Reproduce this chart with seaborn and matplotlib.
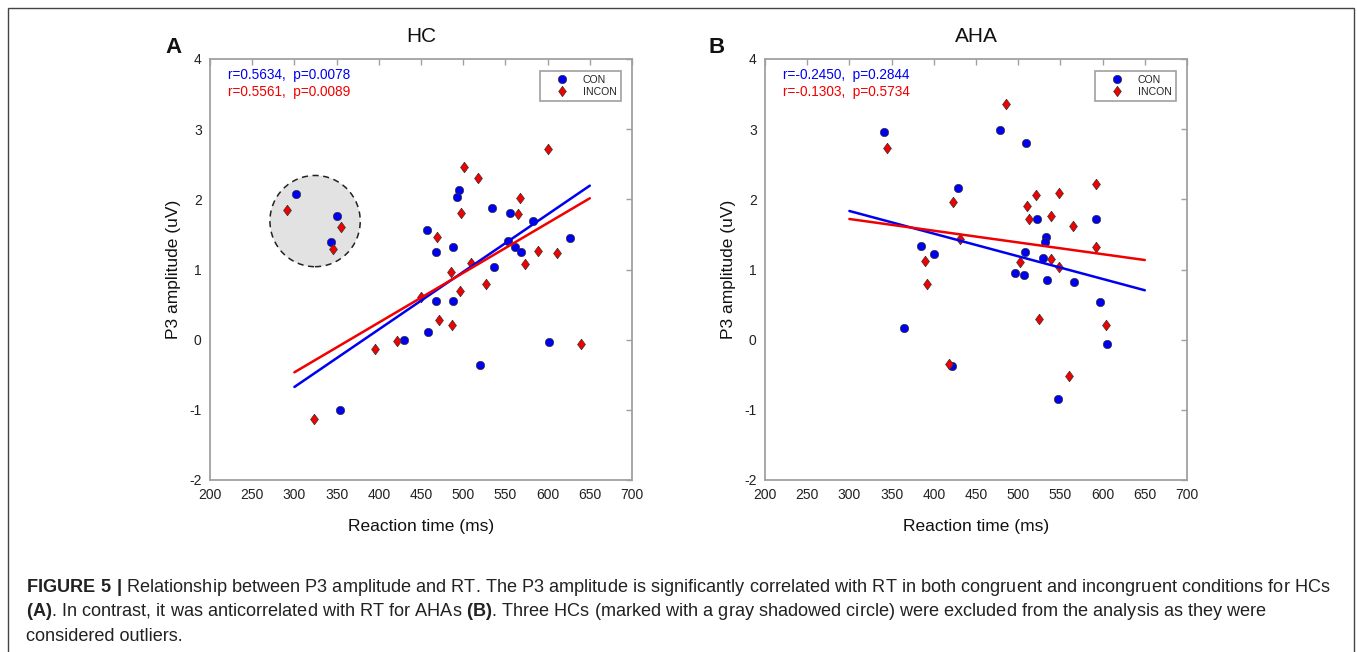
import numpy as np
import pandas as pd
import matplotlib
matplotlib.use("Agg")
import matplotlib.pyplot as plt
import seaborn as sns
from matplotlib.patches import Ellipse, Rectangle
from matplotlib.lines import Line2D

# ---------------- data ----------------
# HC (panel A) - congruent (CON)
hc_con_rt = [495.4, 493.0, 533.7, 555.5, 583.0, 457.5, 626.5, 553.4, 561.0, 487.5,
             467.8, 568.5, 536.8, 467.8, 487.5, 458.7, 429.9, 601.7, 519.9, 354.0]
hc_con_p3 = [2.137, 2.03, 1.87, 1.80, 1.69, 1.56, 1.45, 1.406, 1.316, 1.32,
             1.25, 1.25, 1.03, 0.551, 0.556, 0.114, -0.005, -0.028, -0.361, -1.002]
# HC - incongruent (INCON)
hc_incon_rt = [600.9, 501.3, 517.5, 566.9, 497.0, 565.0, 469.3, 589.0, 611.0, 509.2,
               572.9, 485.2, 527.0, 496.6, 449.6, 471.3, 486.4, 639.6, 395.5, 422.0, 323.6]
hc_incon_p3 = [2.717, 2.461, 2.31, 2.02, 1.805, 1.795, 1.468, 1.264, 1.235, 1.09,
               1.075, 0.97, 0.80, 0.69, 0.61, 0.276, 0.205, -0.066, -0.133, -0.015, -1.126]
# HC outliers (inside gray circle)
hc_out_con_rt = [301.5, 350.8, 343.7]
hc_out_con_p3 = [2.076, 1.767, 1.396]
hc_out_incon_rt = [290.8, 354.8, 346.1]
hc_out_incon_p3 = [1.848, 1.606, 1.292]

# AHA (panel B) - CON
aha_con_rt = [341.0, 428.3, 384.8, 400.6, 478.4, 508.9, 521.9, 591.8, 532.6, 531.8, 508.4,
              529.7, 496.2, 507.2, 533.8, 565.7, 596.5, 364.3, 604.8, 421.6, 547.5]
aha_con_p3 = [2.955, 2.162, 1.335, 1.225, 2.988, 2.80, 1.72, 1.724, 1.468, 1.392, 1.245,
              1.16, 0.955, 0.922, 0.85, 0.822, 0.542, 0.162, -0.057, -0.375, -0.841]
# AHA - INCON
aha_incon_rt = [344.5, 422.7, 431.4, 389.6, 391.6, 485.5, 521.0, 548.3, 510.8, 591.8, 513.2,
                539.0, 564.6, 591.8, 502.0, 539.0, 548.3, 524.6, 604.0, 417.7, 559.8]
aha_incon_p3 = [2.736, 1.958, 1.43, 1.121, 0.793, 3.359, 2.062, 2.09, 1.90, 2.214, 1.72,
                1.758, 1.62, 1.316, 1.103, 1.146, 1.03, 0.295, 0.209, -0.342, -0.518]

# fitted regression lines (end points)
fit_rt = [300, 650]
hc_con_fit = [-0.674, 2.195]
hc_incon_fit = [-0.465, 2.015]
aha_con_fit = [1.834, 0.704]
aha_incon_fit = [1.72, 1.135]

hc_stats = ["r=0.5634,  p=0.0078", "r=0.5561,  p=0.0089"]
aha_stats = ["r=-0.2450,  p=0.2844", "r=-0.1303,  p=0.5734"]
outlier_circle = (324.5, 1.69)  # center (RT, P3)

xticks = list(range(200, 701, 50))
yticks = list(range(-2, 5))
titles = ["HC", "AHA"]
panel_labels = ["A", "B"]
legend_labels = ["CON", "INCON"]

# ---------------- style ----------------
sns.set_style("white")
plt.rcParams['font.family'] = ['Liberation Sans', 'DejaVu Sans']
plt.rcParams['axes.unicode_minus'] = False
plt.rcParams['mathtext.fontset'] = 'custom'
plt.rcParams['mathtext.rm'] = 'Liberation Sans'
plt.rcParams['mathtext.bf'] = 'Liberation Sans:bold'

BLUE = "#0000f0"
RED = "#f00000"
EDGE = "#333333"
SPINE = "#a0a0a0"
S_CIRC = 36
S_DIAM = 58
DIAMOND = [(0, 1), (0.74, 0), (0, -1), (-0.74, 0), (0, 1)]

W, H = 1357, 652
fig = plt.figure(figsize=(W / 100, H / 100), dpi=100)
fig.patch.set_facecolor("white")

# outer frame
fig.patches.append(Rectangle((8 / W, -0.02), (1354 - 8) / W, 1.0 - 8 / H + 0.02,
                             transform=fig.transFigure, fill=False,
                             edgecolor="#444444", linewidth=1.0))

axL = fig.add_axes([210 / W, 1 - 480 / H, 422 / W, 421 / H])
axR = fig.add_axes([765 / W, 1 - 480 / H, 422 / W, 421 / H])


def draw_panel(ax, con_rt, con_p3, incon_rt, incon_p3, con_fit, incon_fit, stats, title):
    sns.scatterplot(x=con_rt, y=con_p3, ax=ax, marker='o', s=S_CIRC, color=BLUE,
                    edgecolor=EDGE, linewidth=0.5, zorder=2, legend=False)
    sns.scatterplot(x=incon_rt, y=incon_p3, ax=ax, marker=DIAMOND, s=S_DIAM, color=RED,
                    edgecolor=EDGE, linewidth=0.5, zorder=2.1, legend=False)
    sns.lineplot(x=fit_rt, y=con_fit, ax=ax, color=BLUE, linewidth=1.8, zorder=3, legend=False)
    sns.lineplot(x=fit_rt, y=incon_fit, ax=ax, color=RED, linewidth=1.8, zorder=3, legend=False)

    ax.set_xlim(200, 700)
    ax.set_ylim(-2, 4)
    ax.set_xticks(xticks)
    ax.set_yticks(yticks)
    ax.tick_params(direction='in', length=4, width=1, color=SPINE, labelsize=10,
                   labelcolor="#222222", top=True, right=True, pad=6)
    for sp in ax.spines.values():
        sp.set_visible(True)
        sp.set_color(SPINE)
        sp.set_linewidth(1.3)
    ax.set_xlabel("Reaction time (ms)", fontsize=12.5, labelpad=12, color="#111111")
    ax.set_ylabel("P3 amplitude (uV)", fontsize=12.5, labelpad=6, color="#111111")
    ax.set_title(title, fontsize=15, pad=12, color="#111111")

    ax.text(0.043, 0.962, stats[0], transform=ax.transAxes, color=BLUE,
            fontsize=9.8, va='center', ha='left')
    ax.text(0.043, 0.922, stats[1], transform=ax.transAxes, color=RED,
            fontsize=9.8, va='center', ha='left')

    handles = [Line2D([], [], marker='o', ls='', color=BLUE, mec=EDGE, mew=0.5, ms=6.0),
               Line2D([], [], marker=DIAMOND, ls='', color=RED, mec=EDGE, mew=0.5, ms=7.4)]
    leg = ax.legend(handles, legend_labels, loc='upper right', bbox_to_anchor=(0.973, 0.972),
                    fontsize=7.6, frameon=True, fancybox=False, framealpha=1,
                    edgecolor=SPINE, borderpad=0.4, handlelength=3.3,
                    handletextpad=0.3, labelspacing=0.15, borderaxespad=0)
    leg.get_frame().set_linewidth(1.2)


draw_panel(axL, hc_con_rt, hc_con_p3, hc_incon_rt, hc_incon_p3,
           hc_con_fit, hc_incon_fit, hc_stats, titles[0])
draw_panel(axR, aha_con_rt, aha_con_p3, aha_incon_rt, aha_incon_p3,
           aha_con_fit, aha_incon_fit, aha_stats, titles[1])

# outlier circle and outlier points in panel A
axL.add_patch(Ellipse(outlier_circle, width=107, height=1.30, facecolor="#e2e2e2",
                      edgecolor="#222222", linestyle=(0, (4, 3)), linewidth=1.1, zorder=1))
sns.scatterplot(x=hc_out_con_rt, y=hc_out_con_p3, ax=axL, marker='o', s=S_CIRC, color=BLUE,
                edgecolor=EDGE, linewidth=0.5, zorder=2, legend=False)
sns.scatterplot(x=hc_out_incon_rt, y=hc_out_incon_p3, ax=axL, marker=DIAMOND, s=S_DIAM,
                color=RED, edgecolor=EDGE, linewidth=0.5, zorder=2.1, legend=False)

# panel labels
fig.text(165 / W, 1 - 53 / H, panel_labels[0], fontsize=16, fontweight='bold',
         ha='left', va='baseline', color="#111111")
fig.text(709 / W, 1 - 53 / H, panel_labels[1], fontsize=16, fontweight='bold',
         ha='left', va='baseline', color="#111111")

# caption
cap1 = (r"$\mathbf{FIGURE\ 5\ |}$ Relationship between P3 amplitude and RT. The P3 amplitude is "
        r"significantly correlated with RT in both congruent and incongruent conditions for HCs")
cap2 = (r"$\mathbf{(A)}$. In contrast, it was anticorrelated with RT for AHAs $\mathbf{(B)}$. "
        r"Three HCs (marked with a gray shadowed circle) were excluded from the analysis as they were")
cap3 = "considered outliers."
for i, c in enumerate([cap1, cap2, cap3]):
    fig.text(26 / W, 1 - (592 + 24.5 * i) / H, c, fontsize=13.1, ha='left',
             va='baseline', color="#222222")

fig.savefig("out.png", dpi=100, facecolor="white")
